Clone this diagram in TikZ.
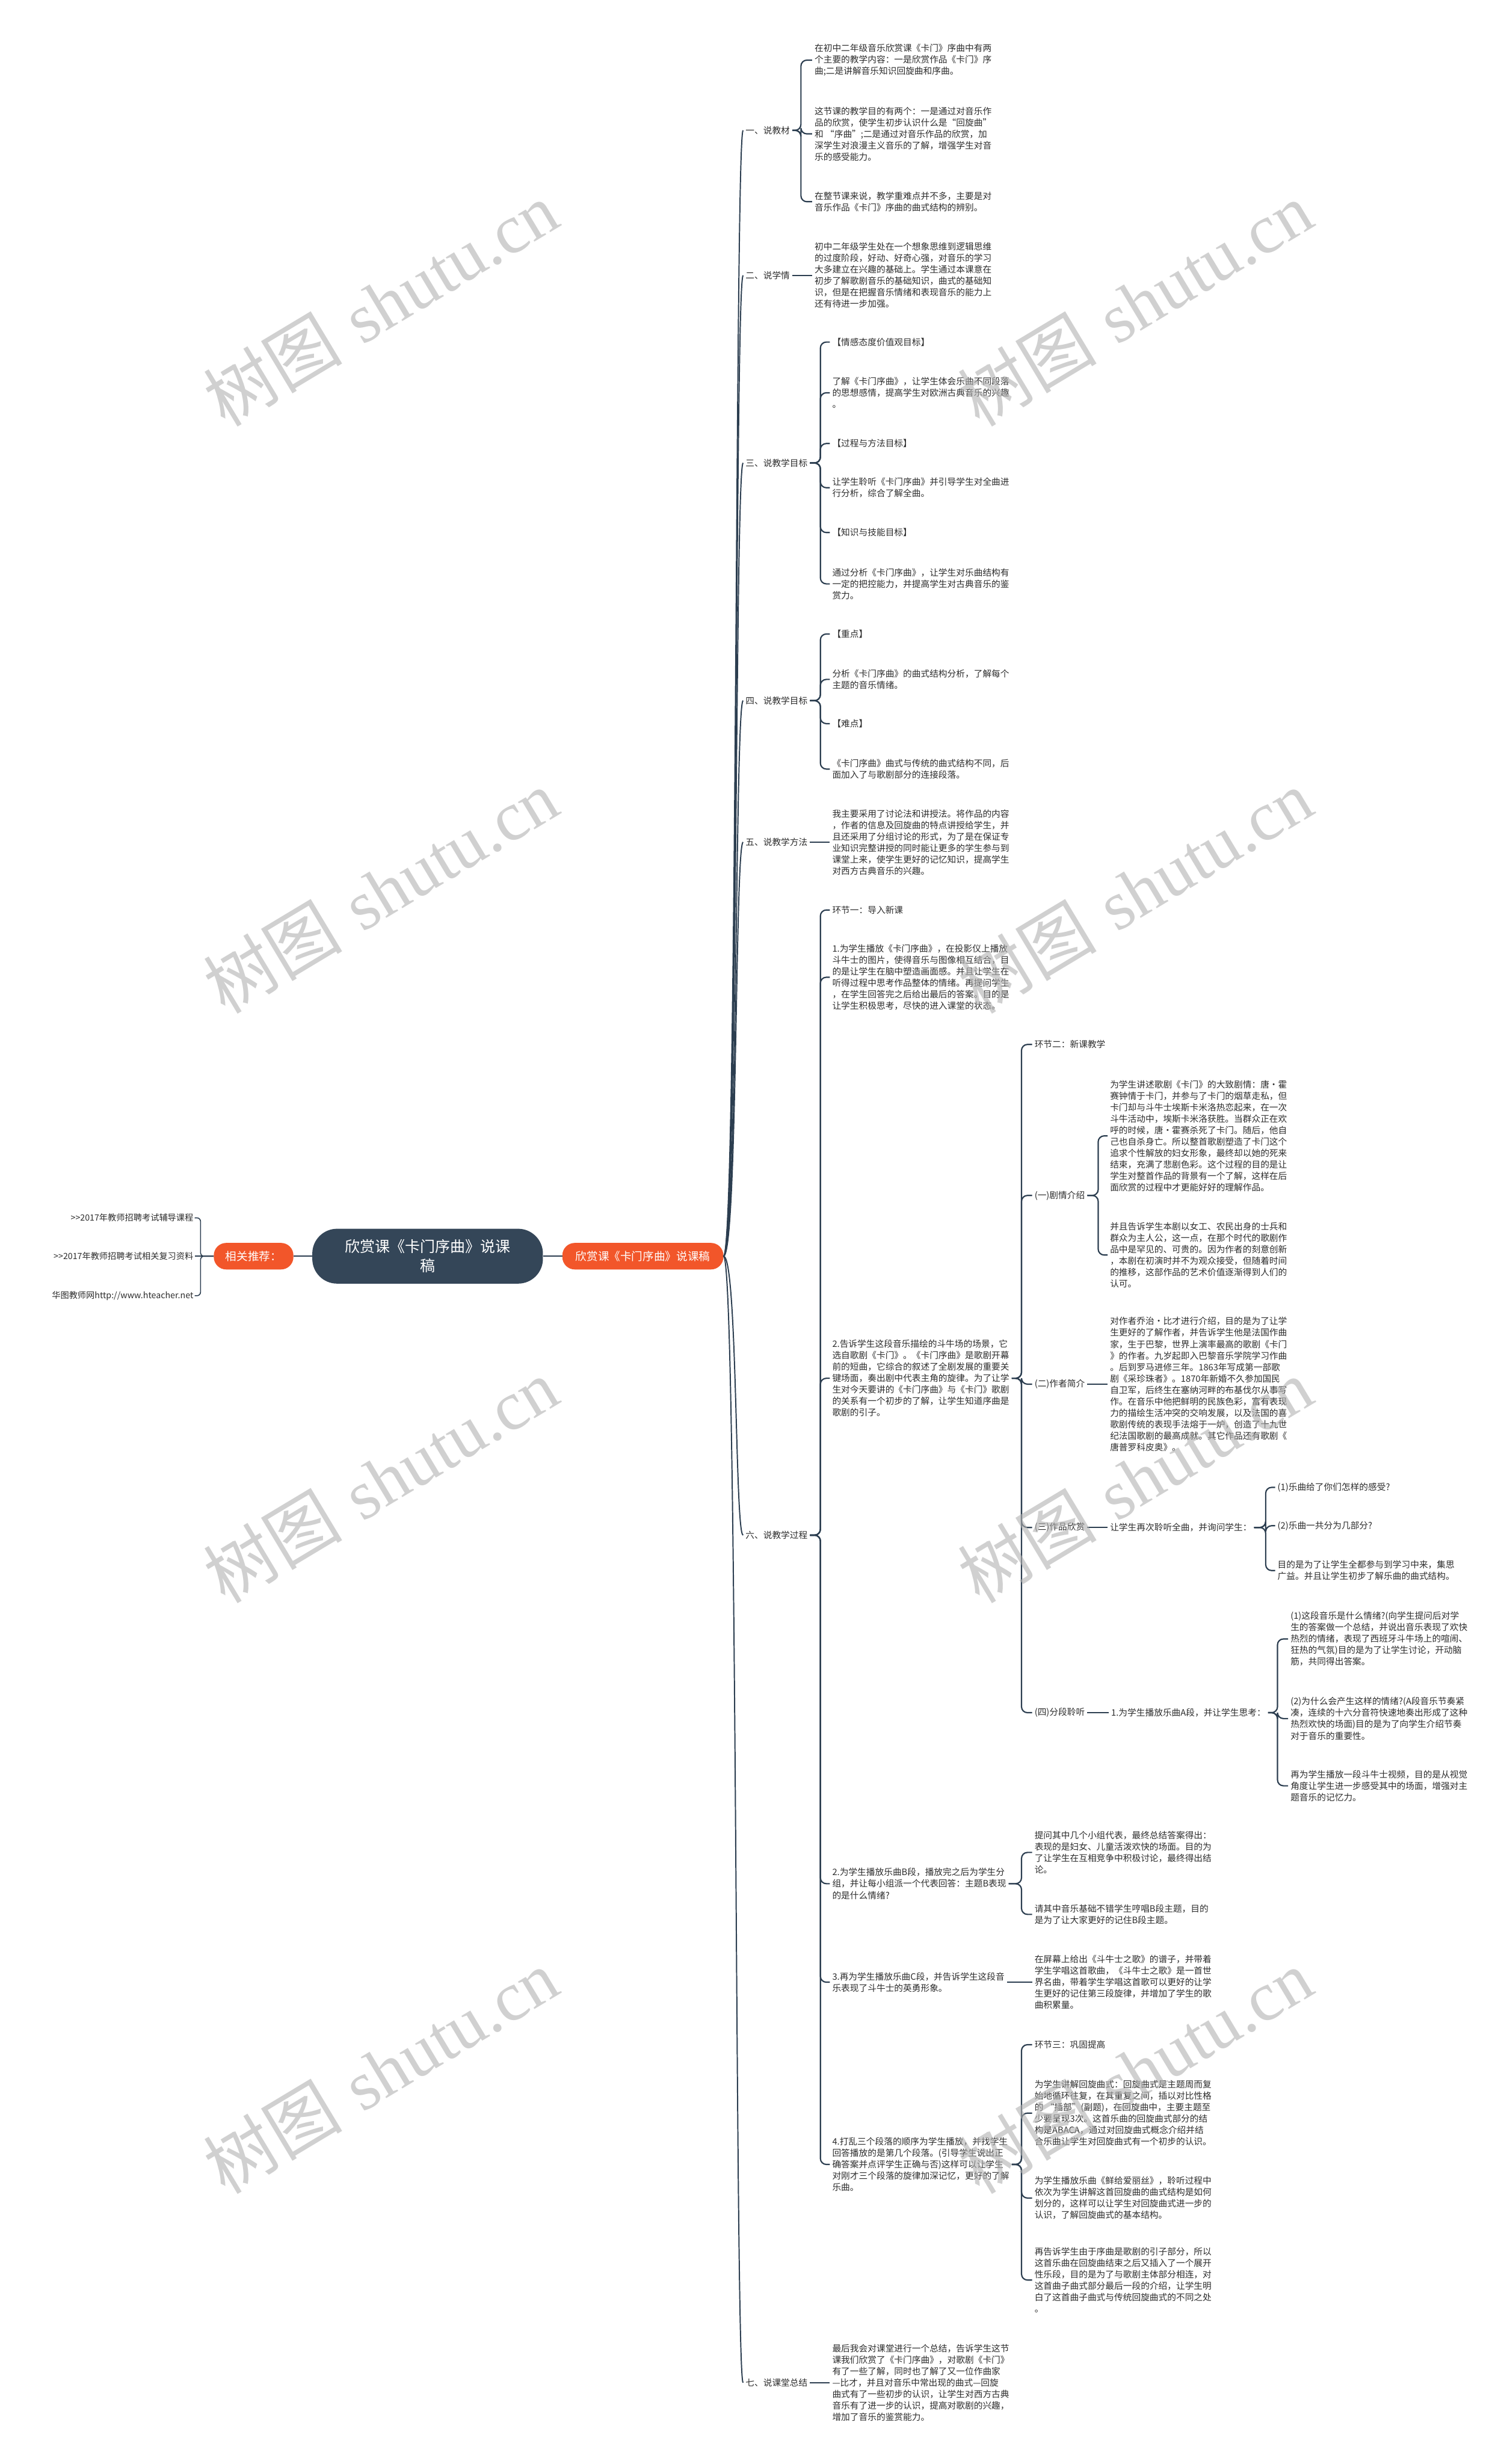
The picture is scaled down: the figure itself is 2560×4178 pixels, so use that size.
\documentclass[tikz,border=0pt]{standalone}
\usepackage{fontspec}
\setmainfont{Noto Sans CJK SC}
\newfontfamily\wmlatin{Liberation Serif}
\definecolor{linecol}{RGB}{44,62,80}
\definecolor{rootcol}{RGB}{52,70,88}
\definecolor{orangecol}{RGB}{242,86,42}
\definecolor{textcol}{RGB}{45,45,45}

\begin{document}
\begin{tikzpicture}[x=1pt,y=-1pt,
    txt/.style={anchor=west, align=left, inner xsep=4pt, inner ysep=1pt, text=textcol, font=\fontsize{15}{19.4}\selectfont},
    link/.style={anchor=east, inner xsep=2pt, text=textcol, font=\fontsize{14.5}{18}\selectfont},
    conn/.style={draw=linecol, line width=2.2pt, rounded corners=10pt},
    trunk/.style={draw=linecol, line width=2pt},
    pill/.style={fill=orangecol, text=white, rounded corners=21pt, minimum height=45pt, font=\fontsize{19}{22}\selectfont},
    wmark/.style={rotate=31, text=black!30, text opacity=0.6, font=\fontsize{118}{118}\selectfont}]

    % Page
    \useasboundingbox (0,0) rectangle (2560,4178);
    \fill[white] (0,0) rectangle (2560,4178);

    % Bracket columns
    \coordinate (bL) at (340,0);
    \coordinate (bA) at (1358,0);
    \coordinate (bB) at (1391,0);
    \coordinate (bC) at (1732,0);
    \coordinate (bD) at (1862,0);
    \coordinate (bE) at (2146,0);
    \coordinate (bF) at (2166,0);

    % Centre
    \node[fill=rootcol, text=white, rounded corners=42pt, minimum width=391pt, minimum height=93pt, align=center, font=\fontsize{25.5}{33}\selectfont] (root) at (725,2130) {欣赏课《卡门序曲》说课\\稿};
    \node[pill, minimum width=135pt] (rec) at (430,2130) {相关推荐：};
    \node[pill, minimum width=273pt] (rt) at (1090,2130) {欣赏课《卡门序曲》说课稿};
    \draw[trunk] (root.west) -- (rec.east);
    \draw[trunk] (root.east) -- (rt.west);

    % Recommended links
    \node[link] (lk1) at (330,2065) {>\kern0pt>2017年教师招聘考试辅导课程};
    \node[link] (lk2) at (330,2130) {>\kern0pt>2017年教师招聘考试相关复习资料};
    \node[link] (lk3) at (330,2197) {华图教师网http://www.hteacher.net};
    \draw[conn, line width=1.6pt, rounded corners=6pt] (rec.west) -- (rec.west -| bL) |- (lk1.east);
    \draw[conn, line width=1.6pt] (rec.west) -- (lk2.east);
    \draw[conn, line width=1.6pt, rounded corners=6pt] (rec.west) -- (rec.west -| bL) |- (lk3.east);

    % Main sections
    \node[txt] (l1) at (1260,221) {一、说教材};
    \node[txt] (l2) at (1260,467) {二、说学情};
    \node[txt] (l3) at (1260,785) {三、说教学目标};
    \node[txt] (l4) at (1260,1188) {四、说教学目标};
    \node[txt] (l5) at (1260,1428) {五、说教学方法};
    \node[txt] (l6) at (1260,2603) {六、说教学过程};
    \node[txt] (l7) at (1260,4040) {七、说课堂总结};
    \draw[trunk] (rt.east) .. controls +(24,0) and +(-14,0) .. (l1.west);
    \draw[trunk] (rt.east) .. controls +(24,0) and +(-14,0) .. (l2.west);
    \draw[trunk] (rt.east) .. controls +(24,0) and +(-14,0) .. (l3.west);
    \draw[trunk] (rt.east) .. controls +(24,0) and +(-14,0) .. (l4.west);
    \draw[trunk] (rt.east) .. controls +(24,0) and +(-14,0) .. (l5.west);
    \draw[trunk] (rt.east) .. controls +(24,0) and +(-14,0) .. (l6.west);
    \draw[trunk] (rt.east) .. controls +(24,0) and +(-14,0) .. (l7.west);

    % 一
    \node[txt] (a1) at (1377,102) {在初中二年级音乐欣赏课《卡门》序曲中有两\\个主要的教学内容：一是欣赏作品《卡门》序\\曲;二是讲解音乐知识回旋曲和序曲。};
    \node[txt] (a2) at (1377,227) {这节课的教学目的有两个：一是通过对音乐作\\品的欣赏，使学生初步认识什么是“回旋曲”\\和 “序曲”;二是通过对音乐作品的欣赏，加\\深学生对浪漫主义音乐的了解，增强学生对音\\乐的感受能力。};
    \node[txt] (a3) at (1377,342) {在整节课来说，教学重难点并不多，主要是对\\音乐作品《卡门》序曲的曲式结构的辨别。};
    \draw[conn] (l1.east) -- (l1.east -| bA) |- (a1.west);
    \draw[conn] (l1.east) -- (l1.east -| bA) |- (a2.west);
    \draw[conn] (l1.east) -- (l1.east -| bA) |- (a3.west);

    % 二
    \node[txt] (b1) at (1377,467) {初中二年级学生处在一个想象思维到逻辑思维\\的过度阶段，好动、好奇心强，对音乐的学习\\大多建立在兴趣的基础上。学生通过本课意在\\初步了解歌剧音乐的基础知识，曲式的基础知\\识，但是在把握音乐情绪和表现音乐的能力上\\还有待进一步加强。};
    \draw[conn] (l2.east) -- (b1.west);

    % 三
    \node[txt] (c1) at (1407,580) {【情感态度价值观目标】};
    \node[txt] (c2) at (1407,666) {了解《卡门序曲》，让学生体会乐曲不同段落\\的思想感情，提高学生对欧洲古典音乐的兴趣\\。};
    \node[txt] (c3) at (1407,752) {【过程与方法目标】};
    \node[txt] (c4) at (1407,827) {让学生聆听《卡门序曲》并引导学生对全曲进\\行分析，综合了解全曲。};
    \node[txt] (c5) at (1407,903) {【知识与技能目标】};
    \node[txt] (c6) at (1407,990) {通过分析《卡门序曲》，让学生对乐曲结构有\\一定的把控能力，并提高学生对古典音乐的鉴\\赏力。};
    \draw[conn] (l3.east) -- (l3.east -| bB) |- (c1.west);
    \draw[conn] (l3.east) -- (l3.east -| bB) |- (c2.west);
    \draw[conn] (l3.east) -- (l3.east -| bB) |- (c3.west);
    \draw[conn] (l3.east) -- (l3.east -| bB) |- (c4.west);
    \draw[conn] (l3.east) -- (l3.east -| bB) |- (c5.west);
    \draw[conn] (l3.east) -- (l3.east -| bB) |- (c6.west);

    % 四
    \node[txt] (d1) at (1407,1075) {【重点】};
    \node[txt] (d2) at (1407,1152) {分析《卡门序曲》的曲式结构分析，了解每个\\主题的音乐情绪。};
    \node[txt] (d3) at (1407,1227) {【难点】};
    \node[txt] (d4) at (1407,1304) {《卡门序曲》曲式与传统的曲式结构不同，后\\面加入了与歌剧部分的连接段落。};
    \draw[conn] (l4.east) -- (l4.east -| bB) |- (d1.west);
    \draw[conn] (l4.east) -- (l4.east -| bB) |- (d2.west);
    \draw[conn] (l4.east) -- (l4.east -| bB) |- (d3.west);
    \draw[conn] (l4.east) -- (l4.east -| bB) |- (d4.west);

    % 五
    \node[txt] (e1) at (1407,1428) {我主要采用了讨论法和讲授法。将作品的内容\\，作者的信息及回旋曲的特点讲授给学生，并\\且还采用了分组讨论的形式，为了是在保证专\\业知识完整讲授的同时能让更多的学生参与到\\课堂上来，使学生更好的记忆知识，提高学生\\对西方古典音乐的兴趣。};
    \draw[conn] (l5.east) -- (e1.west);

    % 六
    \node[txt] (f1) at (1407,1543) {环节一：导入新课};
    \node[txt] (f2) at (1407,1657) {1.为学生播放《卡门序曲》，在投影仪上播放\\斗牛士的图片，使得音乐与图像相互结合，目\\的是让学生在脑中塑造画面感。并且让学生在\\听得过程中思考作品整体的情绪。再提问学生\\，在学生回答完之后给出最后的答案。目的是\\让学生积极思考，尽快的进入课堂的状态。};
    \node[txt] (f3) at (1407,2337) {2.告诉学生这段音乐描绘的斗牛场的场景，它\\选自歌剧《卡门》。《卡门序曲》是歌剧开幕\\前的短曲，它综合的叙述了全剧发展的重要关\\键场面，奏出剧中代表主角的旋律。为了让学\\生对今天要讲的《卡门序曲》与《卡门》歌剧\\的关系有一个初步的了解，让学生知道序曲是\\歌剧的引子。};
    \node[txt] (f4) at (1407,3194) {2.为学生播放乐曲B段，播放完之后为学生分\\组，并让每小组派一个代表回答：主题B表现\\的是什么情绪?};
    \node[txt] (f5) at (1407,3361) {3.再为学生播放乐曲C段，并告诉学生这段音\\乐表现了斗牛士的英勇形象。};
    \node[txt] (f6) at (1407,3670) {4.打乱三个段落的顺序为学生播放，并找学生\\回答播放的是第几个段落。(引导学生说出正\\确答案并点评学生正确与否)这样可以让学生\\对刚才三个段落的旋律加深记忆，更好的了解\\乐曲。};
    \draw[conn] (l6.east) -- (l6.east -| bB) |- (f1.west);
    \draw[conn] (l6.east) -- (l6.east -| bB) |- (f2.west);
    \draw[conn] (l6.east) -- (l6.east -| bB) |- (f3.west);
    \draw[conn] (l6.east) -- (l6.east -| bB) |- (f4.west);
    \draw[conn] (l6.east) -- (l6.east -| bB) |- (f5.west);
    \draw[conn] (l6.east) -- (l6.east -| bB) |- (f6.west);

    % 环节二
    \node[txt] (h1) at (1750,1771) {环节二：新课教学};
    \node[txt] (h2) at (1750,2027) {(一)剧情介绍};
    \node[txt] (h3) at (1750,2347) {(二)作者简介};
    \node[txt] (h4) at (1750,2590) {(三)作品欣赏};
    \node[txt] (h5) at (1750,2904) {(四)分段聆听};
    \draw[conn] (f3.east) -- (f3.east -| bC) |- (h1.west);
    \draw[conn] (f3.east) -- (f3.east -| bC) |- (h2.west);
    \draw[conn] (f3.east) -- (f3.east -| bC) |- (h3.west);
    \draw[conn] (f3.east) -- (f3.east -| bC) |- (h4.west);
    \draw[conn] (f3.east) -- (f3.east -| bC) |- (h5.west);

    \node[txt] (p1) at (1878,1926) {为学生讲述歌剧《卡门》的大致剧情：唐•霍\\赛钟情于卡门，并参与了卡门的烟草走私，但\\卡门却与斗牛士埃斯卡米洛热恋起来，在一次\\斗牛活动中，埃斯卡米洛获胜。当群众正在欢\\呼的时候，唐•霍赛杀死了卡门。随后，他自\\己也自杀身亡。所以整首歌剧塑造了卡门这个\\追求个性解放的妇女形象，最终却以她的死来\\结束，充满了悲剧色彩。这个过程的目的是让\\学生对整首作品的背景有一个了解，这样在后\\面欣赏的过程中才更能好好的理解作品。};
    \node[txt] (p2) at (1878,2128) {并且告诉学生本剧以女工、农民出身的士兵和\\群众为主人公，这一点，在那个时代的歌剧作\\品中是罕见的、可贵的。因为作者的刻意创新\\，本剧在初演时并不为观众接受，但随着时间\\的推移，这部作品的艺术价值逐渐得到人们的\\认可。};
    \draw[conn] (h2.east) -- (h2.east -| bD) |- (p1.west);
    \draw[conn] (h2.east) -- (h2.east -| bD) |- (p2.west);

    \node[txt] (q1) at (1878,2347) {对作者乔治·比才进行介绍，目的是为了让学\\生更好的了解作者，并告诉学生他是法国作曲\\家，生于巴黎，世界上演率最高的歌剧《卡门\\》的作者。九岁起即入巴黎音乐学院学习作曲\\。后到罗马进修三年。1863年写成第一部歌\\剧《采珍珠者》。1870年新婚不久参加国民\\自卫军，后终生在塞纳河畔的布基伐尔从事写\\作。在音乐中他把鲜明的民族色彩，富有表现\\力的描绘生活冲突的交响发展，以及法国的喜\\歌剧传统的表现手法熔于一炉，创造了十九世\\纪法国歌剧的最高成就。其它作品还有歌剧《\\唐普罗科皮奥》。};
    \draw[conn] (h3.east) -- (q1.west);

    \node[txt] (r0) at (1878,2590) {让学生再次聆听全曲，并询问学生：};
    \node[txt] (r1) at (2162,2522) {(1)乐曲给了你们怎样的感受?};
    \node[txt] (r2) at (2162,2587) {(2)乐曲一共分为几部分?};
    \node[txt] (r3) at (2162,2663) {目的是为了让学生全都参与到学习中来，集思\\广益。并且让学生初步了解乐曲的曲式结构。};
    \draw[conn] (h4.east) -- (r0.west);
    \draw[conn] (r0.east) -- (r0.east -| bE) |- (r1.west);
    \draw[conn] (r0.east) -- (r0.east -| bE) |- (r2.west);
    \draw[conn] (r0.east) -- (r0.east -| bE) |- (r3.west);

    \node[txt] (s0) at (1880,2904) {1.为学生播放乐曲A段，并让学生思考：};
    \node[txt] (s1) at (2184,2779) {(1)这段音乐是什么情绪?(向学生提问后对学\\生的答案做一个总结，并说出音乐表现了欢快\\热烈的情绪，表现了西班牙斗牛场上的喧闹、\\狂热的气氛)目的是为了让学生讨论，开动脑\\筋，共同得出答案。};
    \node[txt] (s2) at (2184,2914) {(2)为什么会产生这样的情绪?(A段音乐节奏紧\\凑，连续的十六分音符快速地奏出形成了这种\\热烈欢快的场面)目的是为了向学生介绍节奏\\对于音乐的重要性。};
    \node[txt] (s3) at (2184,3028) {再为学生播放一段斗牛士视频，目的是从视觉\\角度让学生进一步感受其中的场面，增强对主\\题音乐的记忆力。};
    \draw[conn] (h5.east) -- (s0.west);
    \draw[conn] (s0.east) -- (s0.east -| bF) |- (s1.west);
    \draw[conn] (s0.east) -- (s0.east -| bF) |- (s2.west);
    \draw[conn] (s0.east) -- (s0.east -| bF) |- (s3.west);

    % B段, C段
    \node[txt] (t1) at (1750,3141) {提问其中几个小组代表，最终总结答案得出：\\表现的是妇女、儿童活泼欢快的场面。目的为\\了让学生在互相竞争中积极讨论，最终得出结\\论。};
    \node[txt] (t2) at (1750,3246) {请其中音乐基础不错学生哼唱B段主题，目的\\是为了让大家更好的记住B段主题。};
    \draw[conn] (f4.east) -- (f4.east -| bC) |- (t1.west);
    \draw[conn] (f4.east) -- (f4.east -| bC) |- (t2.west);

    \node[txt] (u1) at (1750,3361) {在屏幕上给出《斗牛士之歌》的谱子，并带着\\学生学唱这首歌曲，《斗牛士之歌》是一首世\\界名曲，带着学生学唱这首歌可以更好的让学\\生更好的记住第三段旋律，并增加了学生的歌\\曲积累量。};
    \draw[conn] (f5.east) -- (u1.west);

    % 环节三
    \node[txt] (v1) at (1750,3467) {环节三：巩固提高};
    \node[txt] (v2) at (1750,3583) {为学生讲解回旋曲式：回旋曲式是主题周而复\\始地循环往复，在其重复之间，插以对比性格\\的 “插部”(副题)，在回旋曲中，主要主题至\\少要呈现3次。这首乐曲的回旋曲式部分的结\\构是ABACA，通过对回旋曲式概念介绍并结\\合乐曲让学生对回旋曲式有一个初步的认识。};
    \node[txt] (v3) at (1750,3727) {为学生播放乐曲《鲜给爱丽丝》，聆听过程中\\依次为学生讲解这首回旋曲的曲式结构是如何\\划分的，这样可以让学生对回旋曲式进一步的\\认识，了解回旋曲式的基本结构。};
    \node[txt] (v4) at (1750,3866) {再告诉学生由于序曲是歌剧的引子部分，所以\\这首乐曲在回旋曲结束之后又插入了一个展开\\性乐段，目的是为了与歌剧主体部分相连，对\\这首曲子曲式部分最后一段的介绍，让学生明\\白了这首曲子曲式与传统回旋曲式的不同之处\\。};
    \draw[conn] (f6.east) -- (f6.east -| bC) |- (v1.west);
    \draw[conn] (f6.east) -- (f6.east -| bC) |- (v2.west);
    \draw[conn] (f6.east) -- (f6.east -| bC) |- (v3.west);
    \draw[conn] (f6.east) -- (f6.east -| bC) |- (v4.west);

    % 七
    \node[txt] (g1) at (1407,4040) {最后我会对课堂进行一个总结，告诉学生这节\\课我们欣赏了《卡门序曲》，对歌剧《卡门》\\有了一些了解，同时也了解了又一位作曲家\\—比才，并且对音乐中常出现的曲式—回旋\\曲式有了一些初步的认识，让学生对西方古典\\音乐有了进一步的认识，提高对歌剧的兴趣，\\增加了音乐的鉴赏能力。};
    \draw[conn] (l7.east) -- (g1.west);

    % Watermarks
    \node[wmark] (wm1) at (645,515) {树图\hspace{0.3em}{\wmlatin shutu.cn}};
    \node[wmark] (wm2) at (1924,515) {树图\hspace{0.3em}{\wmlatin shutu.cn}};
    \node[wmark] (wm3) at (645,1511) {树图\hspace{0.3em}{\wmlatin shutu.cn}};
    \node[wmark] (wm4) at (1924,1511) {树图\hspace{0.3em}{\wmlatin shutu.cn}};
    \node[wmark] (wm5) at (645,2510) {树图\hspace{0.3em}{\wmlatin shutu.cn}};
    \node[wmark] (wm6) at (1924,2510) {树图\hspace{0.3em}{\wmlatin shutu.cn}};
    \node[wmark] (wm7) at (645,3512) {树图\hspace{0.3em}{\wmlatin shutu.cn}};
    \node[wmark] (wm8) at (1924,3512) {树图\hspace{0.3em}{\wmlatin shutu.cn}};
\end{tikzpicture}
\end{document}
